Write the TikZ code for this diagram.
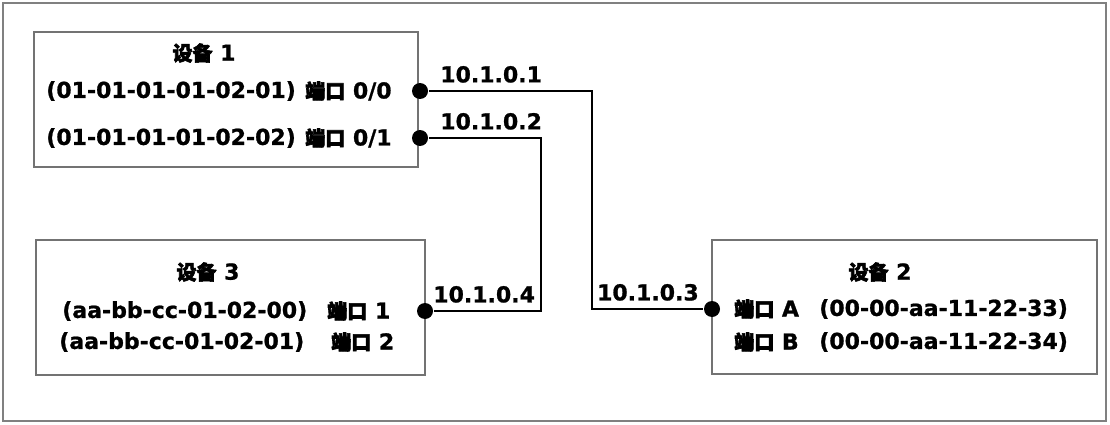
\documentclass[tikz,border=0pt]{standalone}
\usepackage{fontspec}
\setmainfont{DejaVu Sans}[BoldFeatures={FakeBold=1}]
\newfontfamily\cjk{Noto Sans CJK SC}[FakeBold=3]
\newcommand{\dk}[1]{{\cjk\fontsize{20}{22}\selectfont #1}}

\begin{document}
\begin{tikzpicture}[x=1pt,y=-1pt,line width=2.6pt,
    font=\bfseries\fontsize{22}{24}\selectfont,
    box/.style={draw=gray!90!black,line width=1.3pt},
    dot/.style={circle,fill,inner sep=0pt,minimum size=16pt},
    txt/.style={inner sep=0pt,anchor=west}]
    \useasboundingbox (0,0) rectangle (1110,425);
    \draw[gray,line width=1.6pt] (3,3) rectangle (1106,421);
    \draw[box] (34,32) rectangle (418,167);
    \draw[box] (36,240) rectangle (425,375);
    \draw[box] (712,240) rectangle (1097,374);
    \node (dev1) at (204,53) {\dk{设备} 1};
    \node (dev3) at (208,272) {\dk{设备} 3};
    \node (dev2) at (880,272) {\dk{设备} 2};
    \node[txt] (mac10) at (45,91) {(01-01-01-01-02-01)};
    \node[txt] (port10) at (304,91) {\dk{端口} 0/0};
    \node[txt] (mac11) at (45,138) {(01-01-01-01-02-02)};
    \node[txt] (port11) at (304,138) {\dk{端口} 0/1};
    \node[txt] (mac30) at (61,311) {(aa-bb-cc-01-02-00)};
    \node[txt] (port31) at (326,311) {\dk{端口} 1};
    \node[txt] (mac31) at (58,342) {(aa-bb-cc-01-02-01)};
    \node[txt] (port32) at (330,342) {\dk{端口} 2};
    \node[txt] (port2a) at (733,309) {\dk{端口} A};
    \node[txt] (mac2a) at (818,309) {(00-00-aa-11-22-33)};
    \node[txt] (port2b) at (733,342) {\dk{端口} B};
    \node[txt] (mac2b) at (818,342) {(00-00-aa-11-22-34)};
    \node[dot] (d1) at (420,91) {};
    \node[dot] (d2) at (420,138) {};
    \node[dot] (d4) at (425,311) {};
    \node[dot] (d3) at (712,309) {};
    \coordinate (bend1) at (592,91);
    \coordinate (bend2) at (541,138);
    \draw (d1) -- (bend1) |- (d3);
    \draw (d2) -- (bend2) |- (d4);
    \node[anchor=south west,inner sep=1pt] (ip1) at (438,85) {10.1.0.1};
    \node[anchor=south west,inner sep=1pt] (ip2) at (438,132) {10.1.0.2};
    \node[anchor=south west,inner sep=1pt] (ip4) at (431,305) {10.1.0.4};
    \node[anchor=south east,inner sep=1pt] (ip3) at (701,303) {10.1.0.3};
\end{tikzpicture}
\end{document}
